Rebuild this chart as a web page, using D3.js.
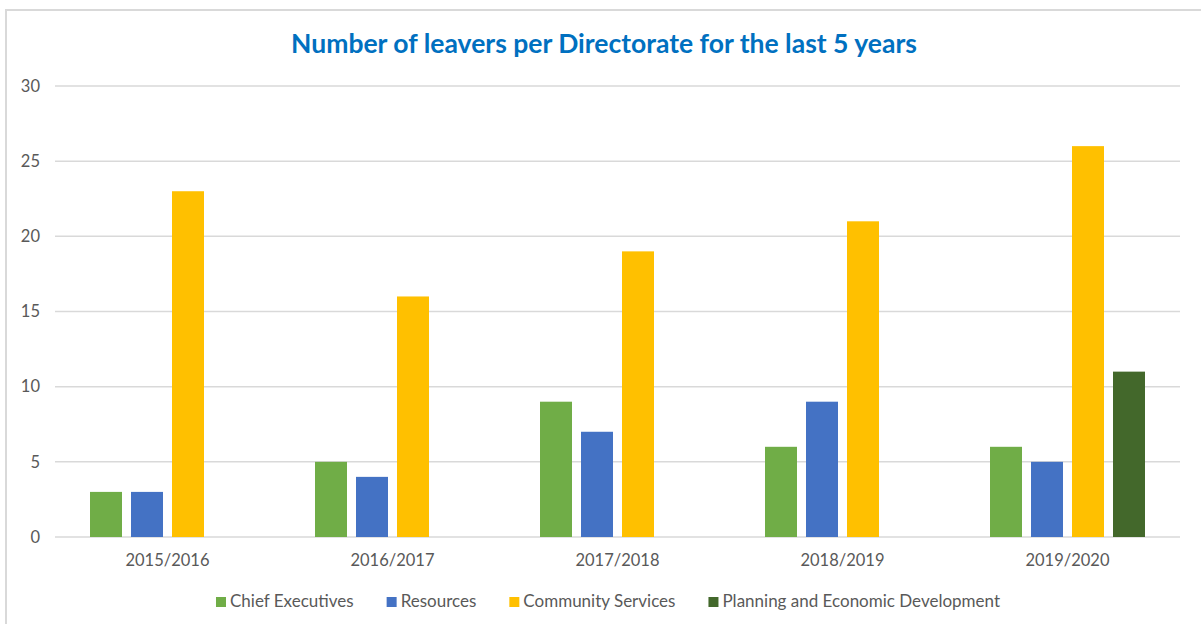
<!DOCTYPE html>
<meta charset="utf-8">
<script src="https://d3js.org/d3.v7.min.js"></script>
<style>
  body { margin: 0; background: #fff; }
  svg { font-family: Lato, "Open Sans", sans-serif; }
</style>
<body>
<div id="chart"></div>
<script>

// data
var years = ["2015/2016", "2016/2017", "2017/2018", "2018/2019", "2019/2020"]
var seriesNames = ["Chief Executives", "Resources", "Community Services", "Planning and Economic Development"]
var chiefExecutives = [3, 5, 9, 6, 6]
var resources = [3, 4, 7, 9, 5]
var communityServices = [23, 16, 19, 21, 26]
var planning = [0, 0, 0, 0, 11]
var yTicks = [0, 5, 10, 15, 20, 25, 30]
var colors = ["#70AD47", "#4472C4", "#FFC000", "#43682B"]

var allSeries = [chiefExecutives, resources, communityServices, planning]

var width = 1201, height = 624
var svg = d3.select("#chart").append("svg")
  .attr("width", width)
  .attr("height", height)

// chart border
svg.append("rect")
  .attr("x", 6).attr("y", 10)
  .attr("width", 1210).attr("height", 640)
  .attr("fill", "none")
  .attr("stroke", "#D9D9D9")
  .attr("stroke-width", 2)

// title
svg.append("text")
  .attr("x", 604).attr("y", 53)
  .attr("text-anchor", "middle")
  .attr("fill", "#0070C0")
  .style("font-size", "26.5px")
  .style("font-weight", "bold")
  .text("Number of leavers per Directorate for the last 5 years")

var plotLeft = 55, plotRight = 1180, plotTop = 86, plotBottom = 537

var x = d3.scaleBand().domain(years).range([plotLeft, plotRight])
// four bar slots per year, 32px wide with 9px gaps
var xInner = d3.scaleBand().domain(d3.range(seriesNames.length))
  .range([0, 155]).paddingInner(9 / 41)
var y = d3.scaleLinear().domain([0, 30]).range([plotBottom, plotTop])

// gridlines
svg.append("g").selectAll("line")
  .data(yTicks)
  .join("line")
    .attr("x1", plotLeft).attr("x2", plotRight)
    .attr("y1", d => y(d)).attr("y2", d => y(d))
    .attr("stroke", "#D9D9D9")
    .attr("stroke-width", 1.5)

// y labels
var yAxis = svg.append("g")
  .attr("transform", "translate(40,0)")
  .call(d3.axisLeft(y).tickValues(yTicks).tickSize(0).tickPadding(0))
yAxis.select(".domain").remove()
yAxis.selectAll("text")
  .attr("fill", "#595959")
  .style("font-size", "16.5px")
  .style("font-family", "Lato, sans-serif")

// bars
var groups = svg.append("g").selectAll("g")
  .data(years)
  .join("g")
    .attr("transform", d => "translate(" + (x(d) + x.bandwidth() / 2 - 77.5) + ",0)")

groups.selectAll("rect")
  .data((d, i) => allSeries.map((s, j) => ({ series: j, value: s[i] })))
  .join("rect")
    .attr("x", d => xInner(d.series))
    .attr("y", d => y(d.value))
    .attr("width", xInner.bandwidth())
    .attr("height", d => plotBottom - y(d.value))
    .attr("fill", d => colors[d.series])

// x labels
var xAxis = svg.append("g")
  .attr("transform", "translate(0," + plotBottom + ")")
  .call(d3.axisBottom(x).tickSize(0).tickPadding(17))
xAxis.select(".domain").remove()
xAxis.selectAll("text")
  .attr("fill", "#595959")
  .style("font-size", "16.5px")
  .style("font-family", "Lato, sans-serif")

// legend
var legend = svg.append("g")
var lx = 0
seriesNames.forEach(function(name, i) {
  var g = legend.append("g")
  g.append("rect")
    .attr("x", 0).attr("y", -10)
    .attr("width", 10).attr("height", 10)
    .attr("fill", colors[i])
  var t = g.append("text")
    .attr("x", 14).attr("y", 0)
    .attr("fill", "#595959")
    .style("font-size", "17px")
    .text(name)
  var w = 14 + t.node().getComputedTextLength()
  g.attr("transform", "translate(" + lx + ",0)")
  lx += w + 33
})
lx -= 33
legend.attr("transform", "translate(" + (608 - lx / 2) + ",607)")

</script>
</body>
